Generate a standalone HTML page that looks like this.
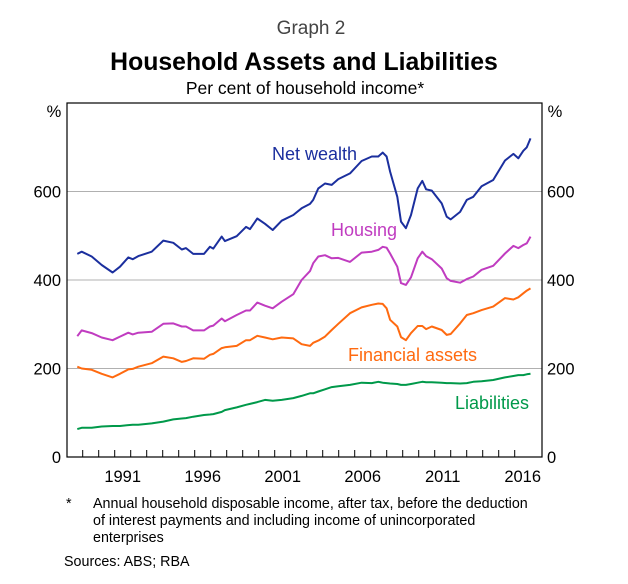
<!DOCTYPE html>
<html><head><meta charset="utf-8"><style>
body{margin:0;background:#fff;font-family:"Liberation Sans",sans-serif;}
svg text{font-family:"Liberation Sans",sans-serif;}
</style></head><body>
<svg id="chart" width="628" height="579" xmlns="http://www.w3.org/2000/svg">
<text x="311" y="34" text-anchor="middle" font-size="19" fill="#444">Graph 2</text>
<text x="304" y="70" text-anchor="middle" font-size="24.8" font-weight="bold" fill="#000">Household Assets and Liabilities</text>
<text x="305" y="94" text-anchor="middle" font-size="17.5" fill="#000">Per cent of household income*</text>
<text x="54" y="117" text-anchor="middle" font-size="16.5">%</text>
<text x="555" y="117" text-anchor="middle" font-size="16.5">%</text>
<g id="grid"></g><g id="ticks"></g><g id="series"></g>
<rect x="67" y="103" width="475" height="354" fill="none" stroke="#000" stroke-width="1.2"/>
<text x="272" y="160" font-size="18" fill="#1b2f9e">Net wealth</text>
<text x="331" y="236" font-size="18" fill="#c03cc0">Housing</text>
<text x="348" y="361" font-size="18" fill="#ff6a10">Financial assets</text>
<text x="455" y="409" font-size="18" fill="#00994a">Liabilities</text>
<text x="66" y="508" font-size="14.3">*</text>
<text x="93" y="508" font-size="14.3">Annual household disposable income, after tax, before the deduction</text>
<text x="93" y="525" font-size="14.3">of interest payments and including income of unincorporated</text>
<text x="93" y="542" font-size="14.3">enterprises</text>
<text x="64" y="566" font-size="14.3">Sources:   ABS; RBA</text>
</svg>
<script>
const years = [1988.67,1988.94,1989.55,1990.16,1990.83,1991.28,1991.79,1992.06,1992.40,1993.22,1993.93,1994.54,1995.06,1995.32,1995.76,1996.42,1996.78,1996.99,1997.50,1997.70,1998.42,1998.99,1999.23,1999.68,2000.15,2000.62,2001.17,2001.88,2002.39,2002.90,
2003.10,2003.41,2003.82,2004.23,2004.63,2005.35,2006.06,2006.68,2007.08,2007.35,2007.59,2007.80,2008.24,2008.47,2008.77,2009.08,2009.49,2009.77,2010.00,2010.35,2010.96,2011.26,2011.51,2012.08,2012.49,2012.89,2013.40,2014.11,2014.83,2015.34,2015.64,2015.95,2016.16,2016.39];
const netWealth = [459,464,453,434,417,430,451,447,454,464,489,484,469,472,459,459,475,471,498,488,499,520,515,539,527,513,534,547,562,572,
581,607,618,615,628,641,669,679,679,688,679,645,588,532,517,547,607,624,605,602,573,543,537,554,581,588,612,626,670,685,675,692,700,720];
const housing = [273,286,280,270,264,272,281,277,281,283,301,302,295,295,286,286,295,297,313,307,321,331,331,349,342,336,351,368,400,420,
438,453,456,449,450,441,462,464,468,475,473,460,430,393,389,406,449,464,454,447,426,404,398,394,402,408,423,432,460,477,472,479,483,498];
const financialAssets = [204,200,197,188,180,188,198,199,204,212,227,223,215,217,223,222,231,233,246,248,251,264,264,274,270,266,270,268,255,251,
258,263,272,287,301,325,338,344,347,346,336,310,295,271,264,280,296,296,289,295,287,276,278,302,321,325,332,340,359,356,361,370,376,381];
const liabilities = [63,66,66,69,70,70,72,73,73,76,80,85,87,88,91,95,96,97,102,106,112,118,120,124,129,127,129,133,138,144,
144,148,153,158,160,163,168,167,170,168,167,166,165,163,163,165,168,170,169,169,168,167,167,166,167,170,171,174,180,183,185,185,187,188];
const yTicks = [0,200,400,600];
const xLabels = [1991,1996,2001,2006,2011,2016];

const NS="http://www.w3.org/2000/svg";
const L=67,R=542,T=103,B=457;
function xs(y){return 82.7+(y-1989)*16.35;}
function xt(y){return 82.7+(y-1989)*16.0;}
function ys(v){return B-(v/800)*(B-T);}
function mk(tag,attrs,parent){const e=document.createElementNS(NS,tag);for(const k in attrs)e.setAttribute(k,attrs[k]);document.getElementById(parent).appendChild(e);return e;}

yTicks.forEach(v=>{
  if(v>0){const g=mk('line',{x1:L,x2:R,y1:ys(v),y2:ys(v),stroke:'#b0b0b0','stroke-width':1},'grid');
  
  }
  const a=mk('text',{x:L-6,y:ys(v)+6,'text-anchor':'end','font-size':16.5},'ticks');a.textContent=v;
  
  
  const b=mk('text',{x:R+5,y:ys(v)+6,'text-anchor':'start','font-size':16.5},'ticks');b.textContent=v;
  
  
});
for(let yr=1989;yr<=2016;yr++){
  const t=mk('line',{x1:xt(yr),x2:xt(yr),y1:B,y2:B-7,stroke:'#000','stroke-width':1},'ticks');
  
  
}
xLabels.forEach(yr=>{
  const t=mk('text',{x:xt(yr+0.5),y:482,'text-anchor':'middle','font-size':16.5},'ticks');t.textContent=yr;
  
  
});
function line(vals,color,name){
  const d=vals.map((v,i)=>(i?'L':'M')+xs(years[i]).toFixed(1)+','+ys(v).toFixed(1)).join('');
  const p=mk('path',{d:d,fill:'none',stroke:color,'stroke-width':2,'stroke-linejoin':'round'},'series');
  
  
}
line(liabilities,'#00994a','liabilities-line');
line(financialAssets,'#ff6a10','financial-assets-line');
line(housing,'#c03cc0','housing-line');
line(netWealth,'#1b2f9e','net-wealth-line');
</script>
</body></html>
